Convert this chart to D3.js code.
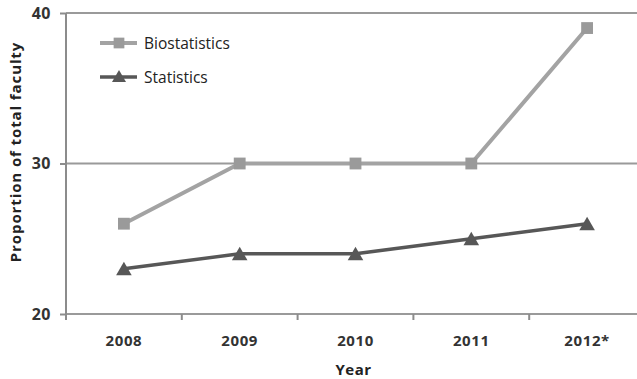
<!DOCTYPE html>
<html>
<head>
<meta charset="utf-8">
<script src="https://cdn.jsdelivr.net/npm/d3@7/dist/d3.min.js"></script>
<style>
  html, body { margin: 0; padding: 0; background: #fff; }
  svg { display: block; }
  text { font-family: "Open Sans", "DejaVu Sans", sans-serif; }
</style>
</head>
<body>
<svg id="chart" width="637" height="379"></svg>
<script>
// Faculty share by year
const years = ["2008", "2009", "2010", "2011", "2012*"];
const biostatistics = [26, 30, 30, 30, 39];
const statistics = [23, 24, 24, 25, 26];
const yTicks = [20, 30, 40];

const series = [
  { name: "Biostatistics", values: biostatistics, color: "#a3a3a3", marker: "#9a9a9a", width: 4, shape: d3.symbolSquare },
  { name: "Statistics", values: statistics, color: "#575757", marker: "#575757", width: 3.5, shape: d3.symbolTriangle }
];

const svg = d3.select("#chart");
const plotLeft = 66, plotRight = 645, plotTop = 13, plotBottom = 314;

const x = d3.scaleBand().domain(years).range([plotLeft, plotRight]);
const y = d3.scaleLinear().domain([20, 40]).range([plotBottom, plotTop]);

// horizontal gridlines
svg.append("g")
  .selectAll("line")
  .data(yTicks)
  .join("line")
  .attr("x1", plotLeft).attr("x2", 637)
  .attr("y1", d => y(d)).attr("y2", d => y(d))
  .attr("stroke", "#9a9a9a")
  .attr("stroke-width", 2);

// y axis
const yAxis = svg.append("g")
  .attr("transform", `translate(${plotLeft},0)`)
  .call(d3.axisLeft(y).tickValues(yTicks).tickSize(6).tickPadding(9));
yAxis.select(".domain").attr("stroke", "#8c8c8c").attr("stroke-width", 2)
  .attr("d", `M0,${plotTop}V${plotBottom + 6}`);
yAxis.selectAll(".tick line").attr("stroke", "#8c8c8c").attr("stroke-width", 2);
yAxis.selectAll(".tick text")
  .attr("fill", "#333")
  .attr("font-size", 16)
  .attr("font-weight", "bold")
  .attr("letter-spacing", 0.5)
  .attr("font-family", "\"Open Sans\", sans-serif");

// x axis with ticks between categories
const xAxis = svg.append("g")
  .attr("transform", `translate(0,${plotBottom})`)
  .call(d3.axisBottom(x).tickSize(0).tickPadding(21));
xAxis.select(".domain").remove();
xAxis.selectAll(".tick text")
  .attr("fill", "#333")
  .attr("font-size", 15)
  .attr("font-weight", "bold")
  .attr("letter-spacing", 0.6)
  .attr("font-family", "\"Open Sans\", sans-serif");
svg.append("g")
  .selectAll("line")
  .data(years.slice(1))
  .join("line")
  .attr("x1", d => x(d)).attr("x2", d => x(d))
  .attr("y1", plotBottom).attr("y2", plotBottom + 6)
  .attr("stroke", "#8c8c8c")
  .attr("stroke-width", 2);

// axis titles
svg.append("text")
  .attr("x", (plotLeft + plotRight) / 2 - 2)
  .attr("y", 375)
  .attr("text-anchor", "middle")
  .attr("font-size", 15)
  .attr("font-weight", "bold")
  .attr("letter-spacing", 0.5)
  .attr("fill", "#222")
  .text("Year");
svg.append("text")
  .attr("transform", "translate(21,152) rotate(-90)")
  .attr("text-anchor", "middle")
  .attr("font-size", 15)
  .attr("font-weight", "bold")
  .attr("letter-spacing", 0.9)
  .attr("fill", "#222")
  .text("Proportion of total faculty");

// lines and markers
const line = d3.line()
  .x((d, i) => x(years[i]) + x.bandwidth() / 2)
  .y(d => y(d));

series.forEach(s => {
  svg.append("path")
    .datum(s.values)
    .attr("d", line)
    .attr("fill", "none")
    .attr("stroke", s.color)
    .attr("stroke-width", s.width)
    .attr("stroke-linejoin", "round");
  svg.append("g")
    .selectAll("path")
    .data(s.values)
    .join("path")
    .attr("transform", (d, i) => `translate(${x(years[i]) + x.bandwidth() / 2},${y(d) + (s.shape === d3.symbolTriangle ? 2 : 0)})`)
    .attr("d", d3.symbol().type(s.shape).size(s.shape === d3.symbolTriangle ? 105 : 140))
    .attr("fill", s.marker);
});

// legend
const legend = svg.append("g").attr("transform", "translate(100,43)");
series.forEach((s, i) => {
  const g = legend.append("g").attr("transform", `translate(0,${i * 34})`);
  g.append("line")
    .attr("x1", 0).attr("x2", 37)
    .attr("stroke", s.color)
    .attr("stroke-width", s.width);
  g.append("path")
    .attr("transform", `translate(19,${s.shape === d3.symbolTriangle ? 1 : 0})`)
    .attr("d", d3.symbol().type(s.shape).size(s.shape === d3.symbolTriangle ? 85 : 115))
    .attr("fill", s.marker);
  g.append("text")
    .attr("x", 44).attr("y", 5.5)
    .attr("font-size", 15.5)
    .attr("font-weight", 500)
    .attr("fill", "#222")
    .text(s.name);
});
</script>
</body>
</html>
